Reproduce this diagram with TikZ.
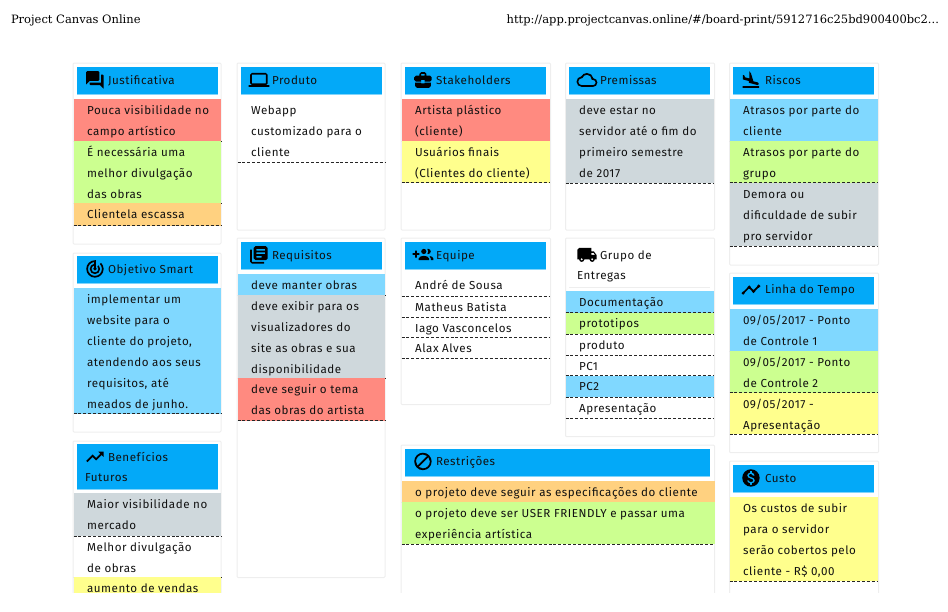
\documentclass[tikz,border=0pt]{standalone}
\usepackage{fontspec}
\usetikzlibrary{svg.path}
\setmainfont[LetterSpace=4.6]{Fira Sans}
\newfontfamily\hdrfont{DejaVu Serif}
\definecolor{hdrblue}{HTML}{03A9F8}
\definecolor{hdrline}{HTML}{81D4FA}
\definecolor{cardline}{HTML}{EEEEEE}
\definecolor{cred}{HTML}{FF8A80}
\definecolor{cgreen}{HTML}{CCFF90}
\definecolor{corange}{HTML}{FFD180}
\definecolor{cblue}{HTML}{80D8FF}
\definecolor{cgray}{HTML}{CFD8DC}
\definecolor{cyellow}{HTML}{FFFF8D}
\definecolor{ink}{HTML}{111111}
\tikzset{
  box/.style={rectangle,inner sep=0pt,outer sep=0pt,anchor=north west},
  cardbox/.style={box,draw=cardline,line width=1pt,fill=white,rounded corners=1pt},
  hdrbox/.style={box,fill=hdrblue},
  rowbox/.style={box},
  rowtext/.style={inner sep=0pt,outer sep=0pt,anchor=north west,align=left,text=ink,font=\fontsize{11.6}{21}\selectfont},
  hdrtext/.style={inner sep=0pt,outer sep=0pt,anchor=north west,align=left,text=ink,font=\fontsize{11.6}{20}\selectfont},
  sep/.style={line width=0.9pt,draw=black!85,dash pattern=on 3pt off 1.9pt},
  pagetext/.style={inner sep=0pt,outer sep=0pt,text=black,font=\hdrfont\fontsize{11.5}{13}\selectfont}
}
% card: name, x, y1, y2, width
\newcommand{\cardat}[5]{\node[cardbox,minimum width=#5 pt,minimum height={(#4-#3)*1pt}] (#1) at (#2,#3) {};}
% header band: name, x, y1, y2, width
\newcommand{\hdrat}[5]{%
  \node[hdrbox,minimum width=#5 pt,minimum height={(#4-#3)*1pt}] (#1) at (#2,#3) {};
  \draw[hdrline,line width=1pt] ([yshift=0.5pt]#1.south west) -- ([yshift=0.5pt]#1.south east);}
% header label: name, x, y (top of the strut), text
\newcommand{\hdrlabel}[4]{\node[hdrtext] (#1) at (#2,#3) {\rule{0pt}{11pt}#4};}
% row: name, x, y1, y2, width, colour or none, text
\newcommand{\rowat}[7]{%
  \node[rowbox,fill=#6,minimum width=#5 pt,minimum height={(#4-#3)*1pt}] (#1) at (#2,#3) {};
  \node[rowtext] (#1t) at ([xshift=13.6pt,yshift=-4.3pt]#1.north west) {\rule{0pt}{11pt}#7};
  \draw[sep] (#1.south west) -- (#1.south east);}
\newcommand{\icforum}{M21 6h-2v9H6v2c0 .55.45 1 1 1h11l4 4V7c0-.55-.45-1-1-1zm-4 6V3c0-.55-.45-1-1-1H3c-.55 0-1 .45-1 1v14l4-4h10c.55 0 1-.45 1-1z}
\newcommand{\iclaptop}{M20 18c1.1 0 1.99-.9 1.99-2L22 6c0-1.1-.9-2-2-2H4c-1.1 0-2 .9-2 2v10c0 1.1.9 2 2 2H0v2h24v-2h-4zM4 6h16v10H4V6z}
\newcommand{\icwork}{M10 16v-1H3.01L3 19c0 1.11.89 2 2 2h14c1.11 0 2-.89 2-2v-4h-7v1h-4zm10-9h-4.01V5l-2-2h-4l-2 2v2H4c-1.1 0-2 .9-2 2v3c0 1.11.89 2 2 2h6v-2h4v2h6c1.1 0 2-.9 2-2V9c0-1.1-.9-2-2-2zm-6 0h-4V5h4v2z}
\newcommand{\iccloud}{M19.35 10.04C18.67 6.59 15.64 4 12 4 9.11 4 6.6 5.64 5.35 8.04 2.34 8.36 0 10.91 0 14c0 3.31 2.69 6 6 6h13c2.76 0 5-2.24 5-5 0-2.64-2.05-4.78-4.65-4.96zM19 18H6c-2.21 0-4-1.79-4-4s1.79-4 4-4h.71C7.37 7.69 9.48 6 12 6c3.04 0 5.5 2.46 5.5 5.5v.5H19c1.66 0 3 1.34 3 3s-1.34 3-3 3z}
\newcommand{\icland}{M2.5 19h19v2h-19zm7.18-5.73l4.35 1.16 5.31 1.42c.8.21 1.62-.26 1.84-1.06.21-.8-.26-1.62-1.06-1.84l-5.31-1.42-2.76-9.02L10.12 2v8.28L5.15 8.95l-.93-2.32-1.45-.39v5.17l1.6.43 5.31 1.43z}
\newcommand{\ictrack}{M19.07 4.93l-1.41 1.41C19.1 7.79 20 9.79 20 12c0 4.42-3.58 8-8 8s-8-3.58-8-8c0-4.08 3.05-7.44 7-7.93v2.02C8.16 6.57 6 9.03 6 12c0 3.31 2.69 6 6 6s6-2.69 6-6c0-1.66-.67-3.16-1.76-4.24l-1.41 1.41C15.55 9.9 16 10.9 16 12c0 2.21-1.79 4-4 4s-4-1.79-4-4c0-1.86 1.28-3.41 3-3.86v2.14c-.6.35-1 .98-1 1.72 0 1.1.9 2 2 2s2-.9 2-2c0-.74-.4-1.38-1-1.72V2h-1C6.48 2 2 6.48 2 12s4.48 10 10 10 10-4.48 10-10c0-2.76-1.12-5.26-2.93-7.07z}
\newcommand{\icbooks}{M4 6H2v14c0 1.1.9 2 2 2h14v-2H4V6zm16-4H8c-1.1 0-2 .9-2 2v12c0 1.1.9 2 2 2h12c1.1 0 2-.9 2-2V4c0-1.1-.9-2-2-2zm-1 9H9V9h10v2zm-4 4H9v-2h6v2zm4-8H9V5h10v2z}
\newcommand{\icgroup}{M8 10H5V7H3v3H0v2h3v3h2v-3h3v-2zm10 1c1.66 0 2.99-1.34 2.99-3S19.66 5 18 5c-.32 0-.63.05-.91.14.57.81.9 1.79.9 2.86s-.34 2.04-.9 2.86c.28.09.59.14.91.14zm-5 0c1.66 0 2.99-1.34 2.99-3S14.66 5 13 5s-3 1.34-3 3 1.34 3 3 3zm6.62 2.16c.83.73 1.38 1.66 1.38 2.84v2h3v-2c0-1.54-2.37-2.49-4.38-2.84zM13 13c-2 0-6 1-6 3v2h12v-2c0-2-4-3-6-3z}
\newcommand{\ictruck}{M20 8h-3V4H3c-1.1 0-2 .9-2 2v11h2c0 1.66 1.34 3 3 3s3-1.34 3-3h6c0 1.66 1.34 3 3 3s3-1.34 3-3h2v-5l-3-4zM6 18.5c-.83 0-1.5-.67-1.5-1.5s.67-1.5 1.5-1.5 1.5.67 1.5 1.5-.67 1.5-1.5 1.5zm13.5-9l1.96 2.5H17V9.5h2.5zm-1.5 9c-.83 0-1.5-.67-1.5-1.5s.67-1.5 1.5-1.5 1.5.67 1.5 1.5-.67 1.5-1.5 1.5z}
\newcommand{\ictrend}{M16 6l2.29 2.29-4.88 4.88-4-4L2 16.59 3.41 18l6-6 4 4 6.3-6.29L22 12V6z}
\newcommand{\ictimeline}{M23 8c0 1.1-.9 2-2 2-.18 0-.35-.02-.51-.07l-3.56 3.55c.05.16.07.34.07.52 0 1.1-.9 2-2 2s-2-.9-2-2c0-.18.02-.36.07-.52l-2.55-2.55c-.16.05-.34.07-.52.07s-.36-.02-.52-.07l-4.55 4.56c.05.16.07.33.07.51 0 1.1-.9 2-2 2s-2-.9-2-2 .9-2 2-2c.18 0 .35.02.51.07l4.56-4.55C8.02 9.36 8 9.18 8 9c0-1.1.9-2 2-2s2 .9 2 2c0 .18-.02.36-.07.52l2.55 2.55c.16-.05.34-.07.52-.07s.36.02.52.07l3.55-3.56C19.02 8.35 19 8.18 19 8c0-1.1.9-2 2-2s2 .9 2 2z}
\newcommand{\icmoney}{M12 2C6.48 2 2 6.48 2 12s4.48 10 10 10 10-4.48 10-10S17.52 2 12 2zm1.41 16.09V20h-2.67v-1.93c-1.71-.36-3.16-1.46-3.27-3.4h1.96c.1 1.05.82 1.87 2.65 1.87 1.96 0 2.4-.98 2.4-1.59 0-.83-.44-1.61-2.67-2.14-2.48-.6-4.18-1.62-4.18-3.67 0-1.72 1.39-2.84 3.11-3.21V4h2.67v1.95c1.86.45 2.79 1.86 2.85 3.39H14.3c-.05-1.11-.64-1.87-2.22-1.87-1.5 0-2.4.68-2.4 1.64 0 .84.65 1.39 2.67 1.91s4.18 1.39 4.18 3.91c-.01 1.83-1.38 2.83-3.12 3.16z}
\newcommand{\icblock}{M12 2C6.48 2 2 6.48 2 12s4.48 10 10 10 10-4.48 10-10S17.52 2 12 2zM4 12c0-4.42 3.58-8 8-8 1.85 0 3.55.63 4.9 1.69L5.69 16.9C4.63 15.55 4 13.85 4 12zm8 8c-1.85 0-3.55-.63-4.9-1.69L18.31 7.1C19.37 8.45 20 10.15 20 12c0 4.42-3.58 8-8 8z}
\newcommand{\fillsvg}[1]{\fill[black] svg {#1};}
% icon: header node, macro holding the svg path
\newcommand{\iconin}[2]{\begin{scope}[shift={([xshift=7.5pt,yshift=-2.5pt]#1.north west)},yscale=-0.87,xscale=0.87]\expandafter\fillsvg\expandafter{#2}\end{scope}}
\begin{document}
\begin{tikzpicture}[x=1pt,y=-1pt]
\useasboundingbox (0,0) rectangle (948,611);
\node[pagetext,anchor=west] (pageleft) at (11,20) {Project Canvas Online};
\node[pagetext,anchor=east] (pageright) at (939,20) {http://app.projectcanvas.online/\#/board-print/5912716c25bd900400bc2...};
\begin{scope}
\clip (0,0) rectangle (948,592);
% ---- column 1
\cardat{cjus}{73}{63}{244}{148}
\hdrat{hjus}{77}{67}{95}{141}
\iconin{hjus}{\icforum}
\hdrlabel{tjus}{108}{73}{Justificativa}
\rowat{r1}{73.5}{99}{141}{147.5}{cred}{Pouca visibilidade no\\campo artístico}
\rowat{r2}{73.5}{141}{203.3}{147.5}{cgreen}{É necessária uma\\melhor divulgação\\das obras}
\rowat{r3}{73.5}{203.3}{225.5}{147.5}{corange}{Clientela escassa}
\cardat{cobj}{73}{253}{432}{148}
\hdrat{hobj}{77}{256}{284}{141}
\iconin{hobj}{\ictrack}
\hdrlabel{tobj}{108}{262}{Objetivo Smart}
\rowat{r4}{73.5}{288}{413.7}{147.5}{cblue}{implementar um\\website para o\\cliente do projeto,\\atendendo aos seus\\requisitos, até\\meados de junho.}
\cardat{cben}{73}{441}{620}{148}
\hdrat{hben}{77}{444}{489.5}{141}
\iconin{hben}{\ictrend}
\hdrlabel{tben}{85}{450}{\hspace*{23pt}Benefícios\\Futuros}
\rowat{r5}{73.5}{493.3}{536}{147.5}{cgray}{Maior visibilidade no\\mercado}
\rowat{r6}{73.5}{536}{577.3}{147.5}{none}{Melhor divulgação\\de obras}
\rowat{r7}{73.5}{577.3}{599}{147.5}{cyellow}{aumento de vendas}
% ---- column 2
\cardat{cpro}{237}{63}{230}{148}
\hdrat{hpro}{241}{67}{95}{141}
\iconin{hpro}{\iclaptop}
\hdrlabel{tpro}{272}{73}{Produto}
\rowat{r8}{237.5}{99}{162}{147.5}{none}{Webapp\\customizado para o\\cliente}
\cardat{creq}{237}{238}{577.5}{148}
\hdrat{hreq}{241}{242}{270}{141}
\iconin{hreq}{\icbooks}
\hdrlabel{treq}{272}{248}{Requisitos}
\rowat{r9}{237.5}{274}{295}{147.5}{cblue}{deve manter obras}
\rowat{r10}{237.5}{295}{378}{147.5}{cgray}{deve exibir para os\\visualizadores do\\site as obras e sua\\disponibilidade}
\rowat{r11}{237.5}{378}{420.7}{147.5}{cred}{deve seguir o tema\\das obras do artista}
% ---- column 3
\cardat{csta}{401}{63}{230}{149.5}
\hdrat{hsta}{405}{67}{95}{141}
\iconin{hsta}{\icwork}
\hdrlabel{tsta}{436}{73}{Stakeholders}
\rowat{r12}{401.5}{99}{141}{148.5}{cred}{Artista plástico\\(cliente)}
\rowat{r13}{401.5}{141}{182.7}{148.5}{cyellow}{Usuários finais\\(Clientes do cliente)}
\cardat{cequ}{401}{238}{404.5}{149.5}
\hdrat{hequ}{405}{242}{270}{141}
\iconin{hequ}{\icgroup}
\hdrlabel{tequ}{436}{248}{Equipe}
\rowat{r14}{401.5}{274}{296}{148.5}{none}{André de Sousa}
\rowat{r15}{401.5}{296}{317}{148.5}{none}{Matheus Batista}
\rowat{r16}{401.5}{317}{337.5}{148.5}{none}{Iago Vasconcelos}
\rowat{r17}{401.5}{337.5}{358.3}{148.5}{none}{Alax Alves}
\cardat{cres}{401}{445}{620}{313.5}
\hdrat{hres}{405}{448.5}{477}{305}
\iconin{hres}{\icblock}
\hdrlabel{tres}{436}{454.5}{Restrições}
\rowat{r18}{401.5}{481}{502}{313}{corange}{o projeto deve seguir as especificações do cliente}
\rowat{r19}{401.5}{502}{544}{313}{cgreen}{o projeto deve ser USER FRIENDLY e passar uma\\experiência artística}
% ---- column 4
\cardat{cpre}{565.5}{63}{230}{149}
\hdrat{hpre}{569}{67}{95}{141}
\iconin{hpre}{\iccloud}
\hdrlabel{tpre}{600}{73}{Premissas}
\rowat{r20}{565.5}{99}{183}{148.5}{cgray}{deve estar no\\servidor até o fim do\\primeiro semestre\\de 2017}
\cardat{cgru}{565.5}{238}{436.7}{149}
\node[box,minimum width=141pt,minimum height=46pt] (hgru) at (569,242) {};
\draw[cardline,line width=1pt] ([yshift=0.5pt]hgru.south west) -- ([yshift=0.5pt]hgru.south east);
\iconin{hgru}{\ictruck}
\hdrlabel{tgru}{577}{248}{\hspace*{23pt}Grupo de\\Entregas}
\rowat{r21}{565.5}{291}{312.5}{148.5}{cblue}{Documentação}
\rowat{r22}{565.5}{312.5}{334}{148.5}{cgreen}{prototipos}
\rowat{r23}{565.5}{334}{355}{148.5}{none}{produto}
\rowat{r24}{565.5}{355}{375.5}{148.5}{none}{PC1}
\rowat{r25}{565.5}{375.5}{397.3}{148.5}{cblue}{PC2}
\rowat{r26}{565.5}{397.3}{418.3}{148.5}{none}{Apresentação}
% ---- column 5
\cardat{cris}{729.5}{63}{265}{149}
\hdrat{hris}{733}{67}{95}{141}
\iconin{hris}{\icland}
\hdrlabel{tris}{765}{73}{Riscos}
\rowat{r27}{729.5}{99}{141}{148}{cblue}{Atrasos por parte do\\cliente}
\rowat{r28}{729.5}{141}{182.7}{148}{cgreen}{Atrasos por parte do\\grupo}
\rowat{r29}{729.5}{182.7}{246}{148}{cgray}{Demora ou\\dificuldade de subir\\pro servidor}
\cardat{clin}{729.5}{273}{452.7}{149}
\hdrat{hlin}{733}{276.7}{305}{141}
\iconin{hlin}{\ictimeline}
\hdrlabel{tlin}{765}{282.7}{Linha do Tempo}
\rowat{r30}{729.5}{309}{351}{148}{cblue}{09/05/2017 - Ponto\\de Controle 1}
\rowat{r31}{729.5}{351}{392.7}{148}{cgreen}{09/05/2017 - Ponto\\de Controle 2}
\rowat{r32}{729.5}{392.7}{434.3}{148}{cyellow}{09/05/2017 -\\Apresentação}
\cardat{ccus}{729.5}{461}{620}{149}
\hdrat{hcus}{733}{465}{493}{141}
\iconin{hcus}{\icmoney}
\hdrlabel{tcus}{765}{471}{Custo}
\rowat{r33}{729.5}{497.3}{581}{148}{cyellow}{Os custos de subir\\para o servidor\\serão cobertos pelo\\cliente - R\$ 0,00}
\end{scope}
\end{tikzpicture}
\end{document}
